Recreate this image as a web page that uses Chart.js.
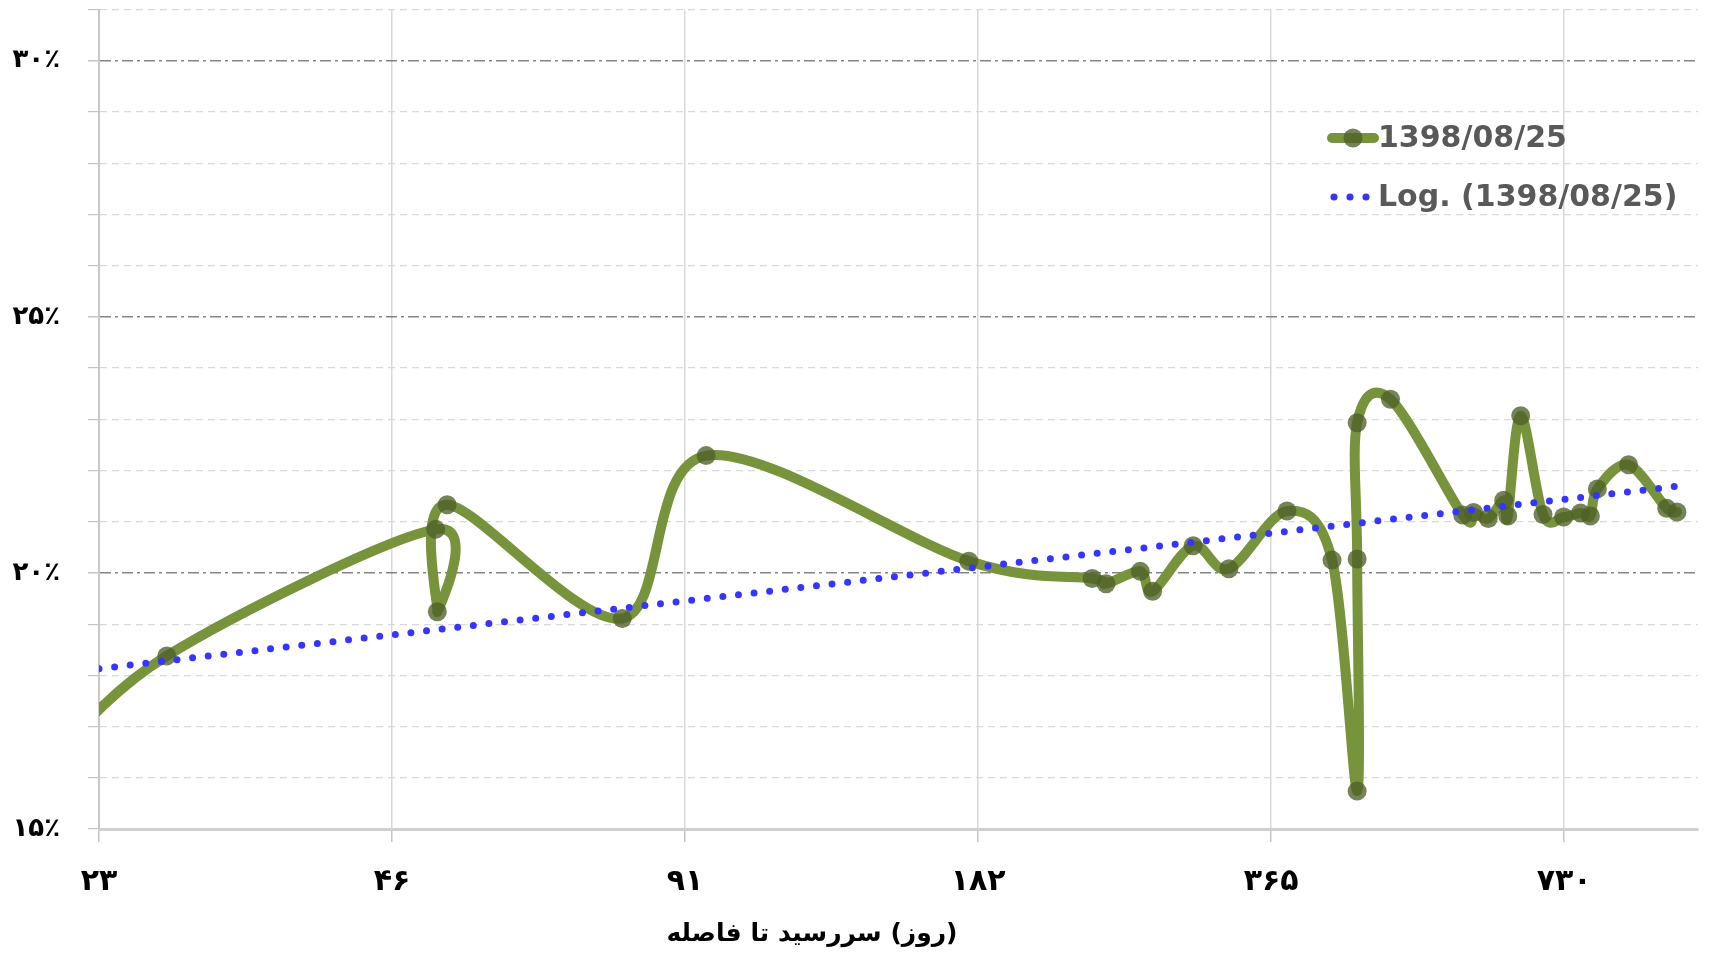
<!DOCTYPE html>
<html>
<head>
<meta charset="utf-8">
<script src="https://cdn.jsdelivr.net/npm/chart.js@4.4.1/dist/chart.umd.min.js"></script>
<style>
  body { margin: 0; background: #fff; }
  canvas { display: block; }
</style>
</head>
<body>
<canvas id="chartContainer" width="1709" height="964"></canvas>
<script>
// days to maturity and yield (%), in the order the series is drawn
// (the first point lies left of the axis and is clipped, as in the original)
let days = [20, 27, 51, 51.2, 52.4, 79.3, 96.7, 180, 241, 249, 270, 278, 306, 333, 382, 425,
  451, 451, 451, 488, 579, 594, 615, 638, 644, 664, 700, 735, 765, 783, 796, 857, 938, 961];
let rates = [16.1, 18.38, 20.85, 19.24, 21.33, 19.11, 22.29, 20.23, 19.89, 19.79, 20.03, 19.64, 20.53, 20.08, 21.21, 20.25,
  15.74, 20.27, 22.93, 23.39, 21.13, 21.18, 21.06, 21.42, 21.11, 23.07, 21.14, 21.09, 21.17, 21.11, 21.64, 22.11, 21.26, 21.19];

let trendDays = [23, 990];
let trendRates = [18.13, 21.72];

let xTickValues = [23, 46, 92, 184, 368, 736];
let xTickLabels = ['۲۳', '۴۶', '۹۱', '۱۸۲', '۳۶۵', '۷۳۰'];
let yTickValues = [15, 20, 25, 30];
let yTickLabels = ['۱۵٪', '۲۰٪', '۲۵٪', '۳۰٪'];

let seriesLabel = '1398/08/25';
let trendLabel = 'Log. (1398/08/25)';
// axis title words, left to right as they appear in the original
let xTitleWords = ['فاصله', 'تا', 'سررسید', '(روز)'];

const GREEN = '#77933c';
const MARKER = 'rgba(78, 96, 40, 0.78)';
const BLUE = '#3535ff';

let isMajor = (v) => v % 5 === 0 && v !== 15;

// excel style smoothing: control points at (next - prev) / 6
const smoothPlugin = {
  id: 'excelSmooth',
  beforeDatasetDraw(chart, args) {
    let meta = args.meta;
    if (!meta.dataset || !meta.dataset.options.tension) return;
    meta.dataset.updateControlPoints(chart.chartArea);
    let pts = meta.data;
    for (let i = 0; i < pts.length; i++) {
      let prev = pts[i - 1] || pts[i];
      let next = pts[i + 1] || pts[i];
      let dx = (next.x - prev.x) / 6;
      let dy = (next.y - prev.y) / 6;
      pts[i].cp1x = pts[i].x - dx;
      pts[i].cp1y = pts[i].y - dy;
      pts[i].cp2x = pts[i].x + dx;
      pts[i].cp2y = pts[i].y + dy;
    }
  }
};

// legend sits inside the plot, top right; axis title drawn word by word
const textPlugin = {
  id: 'insideLegend',
  afterDraw(chart) {
    let ctx = chart.ctx;
    ctx.save();
    ctx.font = 'bold 30px "DejaVu Sans"';
    ctx.textBaseline = 'middle';
    ctx.textAlign = 'left';

    ctx.strokeStyle = GREEN;
    ctx.lineWidth = 10;
    ctx.lineCap = 'round';
    ctx.beginPath();
    ctx.moveTo(1332, 138);
    ctx.lineTo(1374, 138);
    ctx.stroke();
    ctx.fillStyle = MARKER;
    ctx.beginPath();
    ctx.arc(1353, 138, 9.5, 0, Math.PI * 2);
    ctx.fill();
    ctx.fillStyle = '#595959';
    ctx.fillText(seriesLabel, 1378, 139);

    ctx.fillStyle = BLUE;
    [1334, 1350, 1366].forEach((x) => {
      ctx.beginPath();
      ctx.arc(x, 197, 3.6, 0, Math.PI * 2);
      ctx.fill();
    });
    ctx.fillStyle = '#595959';
    ctx.fillText(trendLabel, 1378, 198);

    ctx.font = 'bold 25px "DejaVu Sans"';
    ctx.fillStyle = '#000';
    let gap = ctx.measureText(' ').width;
    let total = xTitleWords.reduce((s, w) => s + ctx.measureText(w).width, 0) + gap * (xTitleWords.length - 1);
    let x = 812 - total / 2;
    xTitleWords.forEach((w) => {
      ctx.fillText(w, x, 934);
      x += ctx.measureText(w).width + gap;
    });
    ctx.restore();
  }
};

let chart = new Chart(document.getElementById('chartContainer'), {
  type: 'scatter',
  data: {
    datasets: [
      {
        label: trendLabel,
        data: trendDays.map((d, i) => ({ x: d, y: trendRates[i] })),
        showLine: true,
        borderColor: BLUE,
        borderWidth: 7,
        borderDash: [0, 15.7],
        borderCapStyle: 'round',
        pointRadius: 0,
        order: 0
      },
      {
        label: seriesLabel,
        data: days.map((d, i) => ({ x: d, y: rates[i] })),
        showLine: true,
        tension: 0.3,
        borderColor: GREEN,
        borderWidth: 10,
        borderCapStyle: 'round',
        borderJoinStyle: 'round',
        pointRadius: 9.5,
        pointBackgroundColor: MARKER,
        pointBorderWidth: 0,
        clip: 0,
        order: 1
      }
    ]
  },
  options: {
    responsive: false,
    animation: false,
    devicePixelRatio: 1,
    layout: { padding: { top: 4.5, right: 11, left: 0, bottom: 0 } },
    plugins: {
      legend: { display: false },
      tooltip: { enabled: false }
    },
    scales: {
      x: {
        type: 'logarithmic',
        min: 23,
        max: 1010,
        afterBuildTicks: (scale) => {
          scale.ticks = xTickValues.map((v) => ({ value: v }));
        },
        afterFit: (scale) => {
          scale.height = 135;
          scale.paddingLeft = 0;
          scale.paddingRight = 0;
        },
        ticks: {
          autoSkip: false,
          maxRotation: 0,
          padding: 22,
          color: '#000',
          font: { family: 'DejaVu Sans', size: 30, weight: 'bold' },
          callback: (v, i) => xTickLabels[i]
        },
        grid: { color: '#d9d9d9', lineWidth: 1.5, tickLength: 13, tickColor: '#c4c4c4' },
        border: { color: '#d0d0d0', width: 3 }
      },
      y: {
        min: 15,
        max: 31,
        afterFit: (scale) => {
          scale.width = 99;
          scale.paddingTop = 0;
          scale.paddingBottom = 0;
        },
        ticks: {
          stepSize: 1,
          autoSkip: false,
          padding: 28,
          color: '#000',
          font: { family: 'DejaVu Sans', size: 26, weight: 'bold' },
          callback: (v) => {
            let i = yTickValues.indexOf(v);
            return i > -1 ? yTickLabels[i] : '';
          }
        },
        grid: {
          color: (c) => isMajor(c.tick.value) ? '#858585' : '#d9d9d9',
          lineWidth: (c) => isMajor(c.tick.value) ? 1.5 : 1.2,
          tickLength: 11,
          tickColor: '#c4c4c4',
          tickBorderDash: [0, 0]
        },
        border: {
          color: '#c8c8c8',
          width: 2,
          dash: (c) => {
            if (!c.tick || c.tick.value === 15) return [];
            return isMajor(c.tick.value) ? [11, 4, 3, 4] : [7, 5];
          }
        }
      }
    }
  },
  plugins: [smoothPlugin, textPlugin]
});
</script>
</body>
</html>
